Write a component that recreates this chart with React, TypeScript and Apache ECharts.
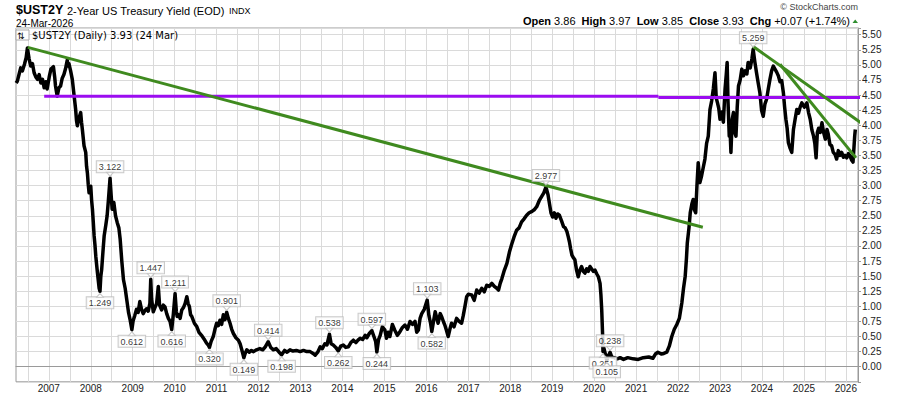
import React, { useEffect, useRef } from "react";
import * as echarts from "echarts";

// [decimal year, yield %]
const yieldPoints: [number, number][] = [
  [2006.22, 4.70], [2006.25, 4.73], [2006.29, 4.84], [2006.33, 4.95], [2006.37, 4.90], [2006.42, 5.01],
  [2006.46, 5.12], [2006.49, 5.28], [2006.53, 5.10], [2006.57, 4.98], [2006.61, 5.02], [2006.65, 4.87],
  [2006.69, 4.80], [2006.73, 4.76], [2006.77, 4.84], [2006.81, 4.70], [2006.85, 4.76], [2006.89, 4.62],
  [2006.93, 4.72], [2006.96, 4.60], [2007.01, 4.80], [2007.05, 4.93], [2007.11, 4.97], [2007.14, 4.80],
  [2007.16, 4.65], [2007.20, 4.48], [2007.24, 4.62], [2007.28, 4.65], [2007.32, 4.78], [2007.36, 4.84],
  [2007.40, 4.94], [2007.44, 5.08], [2007.46, 4.98], [2007.48, 5.02], [2007.52, 4.90], [2007.56, 4.76],
  [2007.60, 4.51], [2007.64, 4.26], [2007.66, 4.08], [2007.68, 3.99], [2007.72, 4.12], [2007.76, 4.21],
  [2007.78, 4.05], [2007.80, 3.93], [2007.84, 3.66], [2007.88, 3.55], [2007.90, 3.32], [2007.92, 3.21],
  [2007.94, 3.02], [2007.96, 2.88], [2008.00, 2.99], [2008.02, 2.76], [2008.04, 2.61], [2008.06, 2.40],
  [2008.08, 2.17], [2008.10, 2.02], [2008.12, 1.83], [2008.16, 1.55], [2008.20, 1.30], [2008.22, 1.249],
  [2008.24, 1.50], [2008.26, 1.61], [2008.29, 1.90], [2008.32, 2.17], [2008.36, 2.35], [2008.39, 2.50],
  [2008.42, 2.75], [2008.46, 3.122], [2008.49, 2.80], [2008.51, 2.61], [2008.55, 2.72], [2008.59, 2.50],
  [2008.63, 2.39], [2008.67, 2.30], [2008.70, 2.12], [2008.74, 1.75], [2008.78, 1.44], [2008.82, 1.30],
  [2008.86, 1.10], [2008.90, 0.90], [2008.94, 0.77], [2008.98, 0.612], [2009.01, 0.76], [2009.05, 0.85],
  [2009.09, 0.95], [2009.13, 0.90], [2009.17, 1.08], [2009.21, 0.95], [2009.25, 0.88], [2009.29, 0.93],
  [2009.33, 0.96], [2009.37, 0.92], [2009.41, 1.05], [2009.43, 1.447], [2009.45, 1.12], [2009.49, 0.91],
  [2009.53, 0.98], [2009.57, 1.05], [2009.61, 1.33], [2009.64, 1.02], [2009.69, 0.94], [2009.73, 1.02],
  [2009.77, 0.99], [2009.81, 0.88], [2009.85, 0.80], [2009.89, 0.75], [2009.93, 0.616], [2009.97, 0.88],
  [2010.01, 1.211], [2010.04, 0.92], [2010.06, 0.83], [2010.10, 0.86], [2010.13, 0.80], [2010.17, 0.94],
  [2010.21, 0.98], [2010.25, 1.05], [2010.29, 1.16], [2010.32, 1.05], [2010.35, 1.00], [2010.38, 0.86],
  [2010.41, 0.83], [2010.47, 0.72], [2010.53, 0.66], [2010.58, 0.57], [2010.64, 0.52], [2010.70, 0.46],
  [2010.76, 0.39], [2010.80, 0.36], [2010.83, 0.320], [2010.87, 0.42], [2010.92, 0.50], [2010.96, 0.62],
  [2011.00, 0.72], [2011.04, 0.68], [2011.08, 0.77], [2011.12, 0.70], [2011.16, 0.86], [2011.20, 0.78],
  [2011.24, 0.901], [2011.28, 0.80], [2011.32, 0.72], [2011.36, 0.62], [2011.40, 0.55], [2011.46, 0.48],
  [2011.52, 0.44], [2011.56, 0.38], [2011.60, 0.28], [2011.65, 0.149], [2011.68, 0.22], [2011.72, 0.28],
  [2011.78, 0.24], [2011.83, 0.27], [2011.88, 0.25], [2011.95, 0.28], [2012.03, 0.30], [2012.10, 0.28],
  [2012.16, 0.33], [2012.23, 0.414], [2012.29, 0.32], [2012.35, 0.28], [2012.42, 0.30], [2012.49, 0.24],
  [2012.55, 0.198], [2012.62, 0.27], [2012.68, 0.24], [2012.75, 0.28], [2012.82, 0.26], [2012.90, 0.27],
  [2012.99, 0.25], [2013.07, 0.27], [2013.15, 0.25], [2013.23, 0.25], [2013.30, 0.22], [2013.35, 0.19],
  [2013.41, 0.24], [2013.47, 0.33], [2013.52, 0.30], [2013.58, 0.38], [2013.63, 0.36], [2013.69, 0.538],
  [2013.73, 0.38], [2013.78, 0.36], [2013.84, 0.32], [2013.90, 0.262], [2013.96, 0.34], [2014.02, 0.36],
  [2014.08, 0.32], [2014.14, 0.33], [2014.20, 0.40], [2014.26, 0.44], [2014.32, 0.40], [2014.37, 0.44],
  [2014.42, 0.47], [2014.48, 0.45], [2014.54, 0.52], [2014.58, 0.48], [2014.64, 0.55], [2014.70, 0.597],
  [2014.75, 0.50], [2014.79, 0.42], [2014.82, 0.244], [2014.86, 0.45], [2014.90, 0.52], [2014.95, 0.66],
  [2015.01, 0.61], [2015.05, 0.47], [2015.09, 0.57], [2015.13, 0.50], [2015.19, 0.70], [2015.25, 0.60],
  [2015.31, 0.52], [2015.37, 0.58], [2015.43, 0.65], [2015.49, 0.69], [2015.55, 0.62], [2015.61, 0.75],
  [2015.67, 0.70], [2015.73, 0.75], [2015.77, 0.57], [2015.81, 0.61], [2015.85, 0.80], [2015.89, 0.88],
  [2015.95, 0.95], [2016.02, 1.103], [2016.06, 0.85], [2016.10, 0.72], [2016.13, 0.582], [2016.17, 0.75],
  [2016.21, 0.91], [2016.25, 0.80], [2016.28, 0.72], [2016.33, 0.88], [2016.37, 0.82], [2016.41, 0.74],
  [2016.44, 0.69], [2016.48, 0.60], [2016.52, 0.50], [2016.56, 0.62], [2016.60, 0.72], [2016.66, 0.66],
  [2016.72, 0.80], [2016.78, 0.75], [2016.84, 0.72], [2016.88, 0.85], [2016.92, 1.00], [2016.96, 1.16],
  [2017.00, 1.20], [2017.08, 1.19], [2017.14, 1.10], [2017.20, 1.27], [2017.26, 1.22], [2017.32, 1.30],
  [2017.38, 1.24], [2017.44, 1.35], [2017.50, 1.33], [2017.56, 1.38], [2017.62, 1.33], [2017.68, 1.30],
  [2017.72, 1.27], [2017.76, 1.38], [2017.80, 1.46], [2017.86, 1.60], [2017.92, 1.71], [2017.98, 1.90],
  [2018.03, 2.02], [2018.09, 2.15], [2018.15, 2.26], [2018.21, 2.30], [2018.27, 2.40], [2018.33, 2.45],
  [2018.39, 2.51], [2018.45, 2.55], [2018.51, 2.57], [2018.57, 2.60], [2018.63, 2.65], [2018.69, 2.75],
  [2018.75, 2.82], [2018.80, 2.88], [2018.85, 2.977], [2018.90, 2.85], [2018.93, 2.72], [2018.97, 2.55],
  [2019.01, 2.48], [2019.05, 2.55], [2019.09, 2.46], [2019.13, 2.53], [2019.17, 2.51], [2019.22, 2.42],
  [2019.27, 2.32], [2019.31, 2.30], [2019.35, 2.24], [2019.38, 2.16], [2019.41, 2.07], [2019.44, 1.95],
  [2019.47, 1.85], [2019.51, 1.80], [2019.54, 1.77], [2019.58, 1.60], [2019.62, 1.49], [2019.66, 1.60],
  [2019.70, 1.66], [2019.74, 1.58], [2019.78, 1.55], [2019.82, 1.62], [2019.86, 1.58], [2019.90, 1.66],
  [2019.94, 1.62], [2019.98, 1.58], [2020.02, 1.60], [2020.06, 1.54], [2020.10, 1.49], [2020.14, 1.38],
  [2020.16, 1.20], [2020.18, 0.94], [2020.20, 0.55], [2020.21, 0.251], [2020.23, 0.31], [2020.27, 0.20],
  [2020.30, 0.105], [2020.34, 0.18], [2020.38, 0.238], [2020.42, 0.16], [2020.48, 0.15], [2020.55, 0.13],
  [2020.62, 0.15], [2020.70, 0.12], [2020.80, 0.15], [2020.93, 0.13], [2021.05, 0.12], [2021.17, 0.15],
  [2021.30, 0.16], [2021.40, 0.14], [2021.46, 0.21], [2021.52, 0.24], [2021.60, 0.21], [2021.66, 0.22],
  [2021.73, 0.24], [2021.79, 0.34], [2021.85, 0.50], [2021.91, 0.62], [2021.97, 0.70], [2022.03, 0.80],
  [2022.09, 1.06], [2022.13, 1.30], [2022.17, 1.50], [2022.20, 1.80], [2022.22, 2.05], [2022.26, 2.30],
  [2022.29, 2.55], [2022.33, 2.70], [2022.36, 2.77], [2022.39, 2.60], [2022.42, 2.55], [2022.45, 3.00],
  [2022.48, 3.38], [2022.52, 3.05], [2022.56, 3.16], [2022.60, 3.30], [2022.64, 3.44], [2022.68, 3.70],
  [2022.72, 3.82], [2022.76, 4.26], [2022.80, 4.40], [2022.84, 4.60], [2022.88, 4.87], [2022.91, 4.45],
  [2022.94, 4.37], [2022.97, 4.28], [2023.00, 4.10], [2023.04, 4.22], [2023.08, 4.05], [2023.12, 4.60],
  [2023.15, 4.85], [2023.17, 5.04], [2023.19, 4.40], [2023.22, 3.82], [2023.24, 3.92], [2023.26, 3.55],
  [2023.29, 4.10], [2023.32, 4.21], [2023.35, 3.88], [2023.38, 3.82], [2023.41, 4.30], [2023.44, 4.65],
  [2023.48, 4.75], [2023.52, 4.93], [2023.56, 4.82], [2023.60, 4.90], [2023.64, 4.85], [2023.67, 5.04],
  [2023.72, 4.95], [2023.76, 5.10], [2023.79, 5.259], [2023.83, 5.05], [2023.87, 4.87], [2023.91, 4.70],
  [2023.95, 4.54], [2023.99, 4.25], [2024.03, 4.15], [2024.07, 4.35], [2024.11, 4.43], [2024.15, 4.60],
  [2024.19, 4.76], [2024.23, 4.90], [2024.27, 4.98], [2024.31, 4.93], [2024.35, 4.88], [2024.39, 4.82],
  [2024.43, 4.72], [2024.47, 4.74], [2024.51, 4.54], [2024.54, 4.30], [2024.57, 4.10], [2024.60, 3.95],
  [2024.63, 3.71], [2024.67, 3.62], [2024.71, 3.55], [2024.75, 3.93], [2024.79, 4.10], [2024.83, 4.26],
  [2024.87, 4.20], [2024.91, 4.30], [2024.95, 4.37], [2025.01, 4.30], [2025.07, 4.37], [2025.11, 4.21],
  [2025.15, 4.10], [2025.19, 3.92], [2025.23, 3.82], [2025.26, 3.70], [2025.29, 3.46], [2025.32, 3.88],
  [2025.35, 3.95], [2025.39, 3.88], [2025.43, 4.04], [2025.47, 3.88], [2025.51, 3.77], [2025.55, 3.93],
  [2025.58, 3.85], [2025.62, 3.68], [2025.66, 3.66], [2025.70, 3.55], [2025.74, 3.52], [2025.78, 3.44],
  [2025.82, 3.58], [2025.86, 3.50], [2025.90, 3.55], [2025.94, 3.47], [2025.98, 3.50], [2026.02, 3.46],
  [2026.06, 3.53], [2026.10, 3.49], [2026.14, 3.42], [2026.17, 3.39], [2026.19, 3.60], [2026.21, 3.82],
  [2026.225, 3.93],
];

// swing highs / lows annotated on the chart
const highLabels: [number, number][] = [
  [2008.46, 3.122], [2009.43, 1.447], [2010.01, 1.211], [2011.24, 0.901], [2012.23, 0.414],
  [2013.69, 0.538], [2014.70, 0.597], [2016.02, 1.103], [2018.85, 2.977], [2020.38, 0.238], [2023.79, 5.259],
];
const lowLabels: [number, number][] = [
  [2008.22, 1.249], [2008.98, 0.612], [2009.93, 0.616], [2010.83, 0.320], [2011.65, 0.149],
  [2012.55, 0.198], [2013.90, 0.262], [2014.82, 0.244], [2016.13, 0.582], [2020.21, 0.251], [2020.30, 0.105],
];

// drawn trendlines
const longTrend: [number, number][] = [[2006.50, 5.29], [2022.59, 2.31]];
const upperTrend: [number, number][] = [[2023.78, 5.31], [2026.50, 3.97]];
const lowerTrend: [number, number][] = [[2024.43, 5.01], [2026.24, 3.46]];
const purpleLeft: [number, number][] = [[2006.89, 4.48], [2021.53, 4.48]];
const purpleRight: [number, number][] = [[2021.53, 4.46], [2026.39, 4.46]];

const yearLabels: number[] = [2007, 2008, 2009, 2010, 2011, 2012, 2013, 2014, 2015, 2016, 2017, 2018, 2019, 2020, 2021, 2022, 2023, 2024, 2025, 2026];
const halfYearGrid: number[] = [];
for (let y = 2006.5; y <= 2026.01; y += 0.5) halfYearGrid.push(y);

const X_MIN = 2006.218;
const X_MAX = 2026.289;
const Y_MIN = -0.25;
const Y_MAX = 5.611;

const quoteText = "{b|Open} 3.86  {b|High} 3.97  {b|Low} 3.85  {b|Close} 3.93  {b|Chg} +0.07 (+1.74%)";

const SANS = '"Liberation Sans", Arial, sans-serif';
const GREEN = "#3f8a1f";
const PURPLE = "#9b0cf0";

export default function App() {
  const ref = useRef<HTMLDivElement>(null);
  useEffect(() => {
    if (!ref.current) return;
    const chart = echarts.init(ref.current, undefined, { renderer: "svg" });
    const overlay = (data: [number, number][], color: string) => ({
      type: "line",
      data,
      symbol: "none",
      silent: true,
      clip: false,
      z: 3,
      lineStyle: { color, width: 3 },
    });
    const labelStyle = {
      show: true,
      fontFamily: SANS,
      fontSize: 9,
      lineHeight: 10,
      color: "#000",
      backgroundColor: "#fff",
      borderColor: "#bdbdbd",
      borderWidth: 1,
      padding: [1, 2, 0, 2],
      distance: 6,
      formatter: (p: any) => Number(p.value[1]).toFixed(3),
    };
    const pointer = (data: [number, number][], up: boolean) => ({
      type: "scatter",
      symbol: "triangle",
      symbolSize: [7, 4],
      symbolRotate: up ? 0 : 180,
      symbolOffset: [0, up ? 4 : -4],
      z: 6,
      silent: true,
      itemStyle: { color: "#fff", borderColor: "#bdbdbd", borderWidth: 1 },
      data: data.map((d) => ({ value: d })),
    });
    chart.setOption({
      animation: false,
      backgroundColor: "#fff",
      grid: {
        left: 16, right: 42, top: 28, bottom: 14.2,
        show: true, borderColor: "#9a9a9a", borderWidth: 1,
        containLabel: false, outerBoundsMode: "none",
      },
      xAxis: {
        type: "value",
        min: X_MIN,
        max: X_MAX,
        axisLine: { show: true, lineStyle: { color: "#9a9a9a" } },
        axisTick: { show: false, customValues: halfYearGrid },
        axisLabel: {
          customValues: yearLabels,
          formatter: (v: number) => String(Math.round(v)),
          fontFamily: SANS, fontSize: 10, color: "#222", margin: 2,
        },
        splitLine: { show: true, lineStyle: { color: "#dadada", width: 1 } },
      },
      yAxis: {
        type: "value",
        position: "right",
        min: Y_MIN,
        max: Y_MAX,
        interval: 0.25,
        axisLine: { show: true, lineStyle: { color: "#9a9a9a" } },
        axisTick: { show: true, length: 3, lineStyle: { color: "#9a9a9a" } },
        axisLabel: {
          fontFamily: SANS, fontSize: 10, color: "#222", margin: 4,
          formatter: (v: number) => {
            const k = v / 0.25;
            if (v < -1e-9 || Math.abs(k - Math.round(k)) > 1e-6) return "";
            return v.toFixed(2);
          },
        },
        splitLine: { show: true, lineStyle: { color: "#dadada", width: 1 } },
      },
      series: [
        {
          type: "line",
          data: yieldPoints,
          symbol: "none",
          z: 2,
          lineStyle: { color: "#000", width: 3.5, join: "round" },
        },
        overlay(purpleLeft, PURPLE),
        overlay(purpleRight, PURPLE),
        overlay(longTrend, GREEN),
        overlay(upperTrend, GREEN),
        overlay(lowerTrend, GREEN),
        {
          type: "scatter",
          symbolSize: 0,
          z: 5,
          silent: true,
          data: highLabels.map((d) => ({ value: d })),
          label: { ...labelStyle, position: "top" },
        },
        {
          type: "scatter",
          symbolSize: 0,
          z: 5,
          silent: true,
          data: lowLabels.map((d) => ({ value: d })),
          label: { ...labelStyle, position: "bottom" },
        },
        pointer(highLabels, false),
        pointer(lowLabels, true),
      ],
      graphic: [
        { type: "text", x: 16, y: 10, style: { text: "$UST2Y", font: `bold 12.5px ${SANS}`, fill: "#000", verticalAlign: "middle" } },
        { type: "text", x: 67, y: 10.5, style: { text: "2-Year US Treasury Yield (EOD)", font: `11px ${SANS}`, fill: "#000", verticalAlign: "middle" } },
        { type: "text", x: 229, y: 11, style: { text: "INDX", font: `9px ${SANS}`, fill: "#000", verticalAlign: "middle" } },
        { type: "text", x: 16, y: 23, style: { text: "24-Mar-2026", font: `10px ${SANS}`, fill: "#000", verticalAlign: "middle" } },
        { type: "text", x: 858, y: 7, style: { text: "© StockCharts.com", font: `9px ${SANS}`, fill: "#444", align: "right", verticalAlign: "middle" } },
        {
          type: "text", x: 850, y: 21,
          style: {
            text: quoteText, font: `11px ${SANS}`, fill: "#000", align: "right", verticalAlign: "middle",
            rich: { b: { font: `bold 11px ${SANS}`, fill: "#000" } },
          },
        },
        { type: "polygon", shape: { points: [[852.5, 23], [858, 23], [855.2, 19.5]] }, style: { fill: "#2f8f2f" } },
        { type: "rect", shape: { x: 16, y: 30, width: 13, height: 10 }, style: { fill: "#fff", stroke: "#aaa", lineWidth: 1 }, z: 10 },
        { type: "text", x: 17, y: 35.5, z: 11, style: { text: "⇅", font: `9px "DejaVu Sans"`, fill: "#000", verticalAlign: "middle" } },
        { type: "text", x: 32, y: 35, z: 11, style: { text: "$UST2Y (Daily) 3.93 (24 Mar)", font: `10px "DejaVu Sans"`, fill: "#000", verticalAlign: "middle" } },
      ],
    });
    return () => chart.dispose();
  }, []);
  return <div ref={ref} style={{ position: "absolute", left: 0, top: 0, width: 900, height: 396 }} />;
}
